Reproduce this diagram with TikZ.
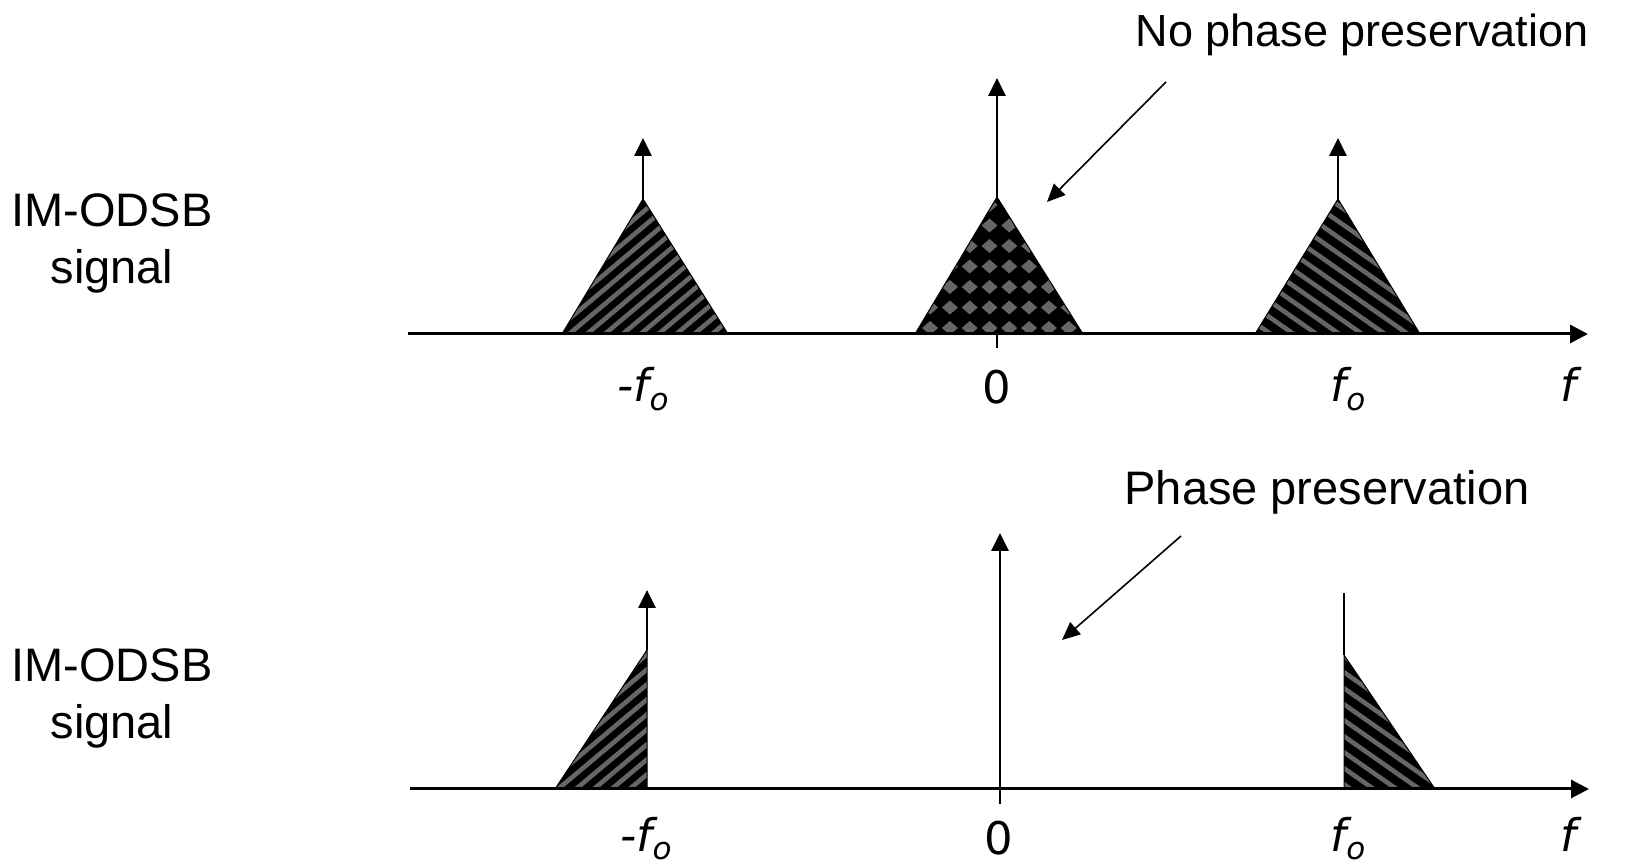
\documentclass[tikz,border=0pt]{standalone}
\usepackage{fontspec}
\setmainfont{Liberation Sans}
\newfontfamily\labfont{DejaVu Sans}
\usetikzlibrary{arrows.meta}
\definecolor{stripegray}{RGB}{102,102,102}
\tikzset{
  txt/.style={font=\fontsize{23.5}{28.5}\selectfont, inner sep=0pt},
  lab/.style={font=\labfont\itshape\fontsize{22.5}{27}\selectfont, inner sep=0pt, anchor=base},
  axisline/.style={line width=1.5pt, -{Triangle[length=9pt,width=9pt]}},
  spike/.style={line width=1.4pt, -{Triangle[length=9pt,width=8.5pt]}},
  plainspike/.style={line width=1.4pt},
  pointer/.style={line width=0.8pt, -{Triangle[length=9pt,width=8pt]}},
  stripe/.style={draw=stripegray, line width=2.3pt},
  dotfill/.style={fill=stripegray},
  bandedge/.style={draw=black, line width=0.5pt},
}
\newcommand{\sub}[1]{\raisebox{-4.5pt}{\fontsize{15.5}{15.5}\selectfont #1}}
\begin{document}
\begin{tikzpicture}[x=0.5pt,y=-0.5pt]
\useasboundingbox (0,0) rectangle (1629,865);

% ---------- top spectrum ----------
\coordinate (ta0) at (408,334);
\coordinate (ta1) at (1588,334);
\coordinate (tl) at (643,199);
\coordinate (tlt) at (643,138);
\coordinate (tm) at (997,197);
\coordinate (tmt) at (997,78);
\coordinate (tr) at (1338,199);
\coordinate (trt) at (1338,138);
\coordinate (ttick) at (997,348);
\coordinate (tzero) at (997,334);

% left band (rising stripes)
\begin{scope}
  \clip (562,334) -- (tl) -- (728,334) -- cycle;
  \fill[black] (540,180) rectangle (750,340);
  \foreach \c in {200,215,...,515} \draw[stripe] (550,\c) -- (740,\c-159.4);
\end{scope}
\draw[bandedge] (562,334) -- (tl) -- (728,334);

% middle band (diamond grid)
\begin{scope}
  \clip (915,334) -- (tm) -- (1083,334) -- cycle;
  \fill[black] (900,180) rectangle (1100,340);
  \foreach \i in {-5,...,5} \foreach \j in {0,...,6}
    \fill[dotfill] ({989.5+19.8*\i-8},{328-20.5*\j}) -- ({989.5+19.8*\i},{328-20.5*\j-7})
      -- ({989.5+19.8*\i+8},{328-20.5*\j}) -- ({989.5+19.8*\i},{328-20.5*\j+7}) -- cycle;
\end{scope}
\draw[bandedge] (915,334) -- (tm) -- (1083,334);

% right band (falling stripes)
\begin{scope}
  \clip (1255,334) -- (tr) -- (1420,334) -- cycle;
  \fill[black] (1240,180) rectangle (1440,340);
  \foreach \c in {60,76,...,340} \draw[stripe] (1245,\c) -- (1430,\c+129.5);
\end{scope}
\draw[bandedge] (1255,334) -- (tr) -- (1420,334);

\draw[axisline] (ta0) -- (ta1);
\draw[line width=1.4pt] (tzero) -- (ttick);
\draw[spike] (tl) -- (tlt);
\draw[spike] (tm) -- (tmt);
\draw[spike] (tr) -- (trt);

\node[lab] (tl1) at (643,402) {-f\sub{o}};
\node[lab, font=\labfont\fontsize{22.5}{27}\selectfont] (tl2) at (997,404) {0};
\node[lab] (tl3) at (1348,402) {f\sub{o}};
\node[lab] (tl4) at (1568,402) {f};

\node[txt, anchor=base, font=\fontsize{22.5}{27}\selectfont] (npp) at (1362,47) {No phase preservation};
\coordinate (np0) at (1166,82);
\coordinate (np1) at (1047,202);
\draw[pointer] (np0) -- (np1);

\node[txt, anchor=base] (ima) at (112,227) {IM-ODSB};
\node[txt, anchor=base] (imb) at (112,284) {signal};

% ---------- bottom spectrum ----------
\coordinate (ba0) at (410,789);
\coordinate (ba1) at (1589,789);
\coordinate (bl) at (647,650);
\coordinate (blt) at (647,590);
\coordinate (bm0) at (1000,804);
\coordinate (bmt) at (1000,533);
\coordinate (br) at (1344,655);
\coordinate (brt) at (1344,593);

\begin{scope}
  \clip (555,789) -- (bl) -- (647,789) -- cycle;
  \fill[black] (540,640) rectangle (660,795);
  \foreach \c in {650,665,...,900} \draw[stripe] (545,\c) -- (660,\c-96.5);
\end{scope}
\draw[bandedge] (555,789) -- (bl) -- (647,789);

\begin{scope}
  \clip (1344,789) -- (br) -- (1435,789) -- cycle;
  \fill[black] (1330,640) rectangle (1450,795);
  \foreach \c in {570,586,...,800} \draw[stripe] (1335,\c) -- (1445,\c+77);
\end{scope}
\draw[bandedge] (1344,789) -- (br) -- (1435,789);

\draw[axisline] (ba0) -- (ba1);
\draw[spike] (bm0) -- (bmt);
\draw[spike] (bl) -- (blt);
\draw[plainspike] (br) -- (brt);

\node[lab] (bl1) at (646,851) {-f\sub{o}};
\node[lab, font=\labfont\fontsize{22.5}{27}\selectfont] (bl2) at (999,855) {0};
\node[lab] (bl3) at (1348,851) {f\sub{o}};
\node[lab] (bl4) at (1568,851) {f};

\node[txt, anchor=base] (pp) at (1327,505) {Phase preservation};
\coordinate (pp0) at (1181,536);
\coordinate (pp1) at (1062,640);
\draw[pointer] (pp0) -- (pp1);

\node[txt, anchor=base] (imc) at (112,682) {IM-ODSB};
\node[txt, anchor=base] (imd) at (112,739) {signal};
\end{tikzpicture}
\end{document}
